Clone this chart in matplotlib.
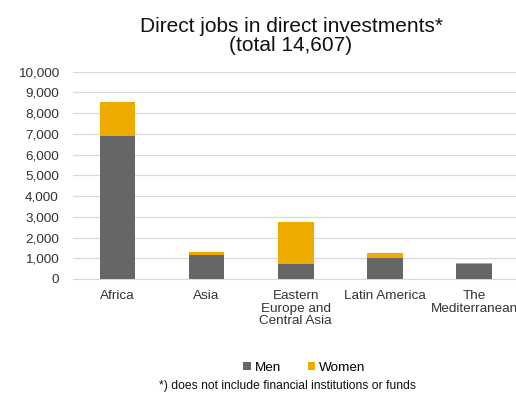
import numpy as np
import matplotlib.pyplot as plt
from matplotlib.ticker import FuncFormatter

plt.rcParams['font.family'] = ['Liberation Sans', 'DejaVu Sans']

regions = ["Africa", "Asia", "Eastern\nEurope and\nCentral Asia", "Latin America", "The\nMediterranean"]
men = [6880, 1170, 720, 1000, 720]
women = [1660, 130, 2010, 270, 47]

men_color = "#666666"
women_color = "#EDAB00"

fig = plt.figure(figsize=(5.16, 3.94), dpi=100)
ax = fig.add_axes([0.141, 0.292, 0.864, 0.526])

x = np.arange(len(regions))
ax.bar(x, men, width=0.4, color=men_color, label="Men", zorder=3)
ax.bar(x, women, width=0.4, bottom=men, color=women_color, label="Women", zorder=3)

ax.set_xlim(-0.5, len(regions) - 0.5)
ax.set_ylim(0, 10000)
ax.set_yticks(np.arange(0, 10001, 1000))
ax.yaxis.set_major_formatter(FuncFormatter(lambda v, p: f"{int(v):,}"))
ax.grid(axis="y", color="#d9d9d9", linewidth=0.9, zorder=0)
for s in ["top", "right", "left"]:
    ax.spines[s].set_visible(False)
ax.spines["bottom"].set_color("#d9d9d9")
ax.tick_params(length=0, labelsize=9.7, colors="#333333")
ax.tick_params(axis="y", pad=10)
ax.set_xticks(x)
ax.set_xticklabels(regions, linespacing=1.05)
ax.tick_params(axis="x", pad=8)

fig.text(0.564, 0.909, "Direct jobs in direct investments*\n(total 14,607)",
         ha="center", va="center", fontsize=15, linespacing=1.0, color="#111111")

fig.legend(loc="center", bbox_to_anchor=(0.59, 0.066), ncol=2, frameon=False,
           fontsize=9.7, handlelength=0.55, handleheight=0.55, handletextpad=0.3,
           columnspacing=2.0)
fig.text(0.558, 0.004, "*) does not include financial institutions or funds",
         ha="center", va="bottom", fontsize=8.7, color="#111111")

fig.savefig("out.png", dpi=100)
